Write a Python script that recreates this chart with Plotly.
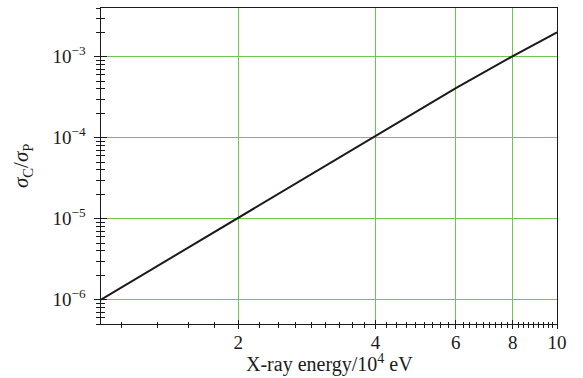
import plotly.graph_objects as go
import numpy as np

# X-ray energy in units of 10^4 eV and the ratio sigma_C / sigma_P
energy = [1, 2, 4, 6, 8, 10]
ratio = [1.0e-6, 1.03e-5, 1.05e-4, 4.1e-4, 1.02e-3, 2.0e-3]

x_major = [2, 4, 6, 8, 10]
x_major_text = ["2", "4", "6", "8", "10"]
# minor ticks every 2/9 between labelled ticks
x_minor = [a + 2 * k / 9 for a in [0, 2, 4, 6, 8] for k in range(1, 9) if a + 2 * k / 9 > 1.0]

y_major = [1e-6, 1e-5, 1e-4, 1e-3]
y_major_text = ["10<sup>\u22126</sup>", "10<sup>\u22125</sup>", "10<sup>\u22124</sup>", "10<sup>\u22123</sup>"]
y_minor = [m * 10.0 ** e for e in range(-7, -2) for m in range(2, 10)]
y_minor = [v for v in y_minor if 4.9e-7 <= v <= 4.1e-3 and v not in y_major]

x_range = [0, 1]
y_range = [np.log10(5e-7), np.log10(4e-3)]

x_title = "X-ray energy/10<sup>4</sup> eV"
y_title = "<i>\u03c3</i><sub>C</sub>/<i>\u03c3</i><sub>P</sub>"

FONT = "Liberation Serif"
INK = "#1a1a1a"
GRID = "#6cc84c"

fig = go.Figure()
fig.add_trace(go.Scatter(x=energy, y=ratio, mode="lines",
                         line=dict(color=INK, width=2), showlegend=False,
                         hoverinfo="skip"))
# helper trace so the inner-tick axes are drawn
fig.add_trace(go.Scatter(x=[1], y=[1e-6], xaxis="x2", yaxis="y2", mode="markers",
                         marker=dict(opacity=0), showlegend=False, hoverinfo="skip"))

common_x = dict(type="log", range=x_range, tickmode="array", tickvals=x_major,
                ticklen=4, tickwidth=1.2, tickcolor=INK, automargin=False)
common_y = dict(type="log", range=y_range, tickmode="array", tickvals=y_major,
                ticklen=5.5, tickwidth=1.2, tickcolor=INK, automargin=False)

fig.update_layout(
    width=583, height=378,
    margin=dict(l=101, r=26, t=7.5, b=54.3),
    paper_bgcolor="white", plot_bgcolor="white",
    font=dict(family=FONT, size=19, color=INK),
    xaxis=dict(**common_x, ticktext=x_major_text, ticks="outside",
               showgrid=True, gridcolor=GRID, gridwidth=1.2,
               showline=True, linecolor=INK, linewidth=1.3, mirror=True,
               zeroline=False, ticklabelstandoff=-3,
               tickfont=dict(size=19),
               minor=dict(tickmode="array", tickvals=x_minor, ticks="outside",
                          ticklen=2.5, tickwidth=1, tickcolor=INK, showgrid=False)),
    yaxis=dict(**common_y, ticktext=y_major_text, ticks="outside",
               showgrid=True, gridcolor=GRID, gridwidth=1.2,
               showline=True, linecolor=INK, linewidth=1.3, mirror=True,
               zeroline=False, ticklabelstandoff=5,
               tickfont=dict(size=19),
               minor=dict(tickmode="array", tickvals=y_minor, ticks="outside",
                          ticklen=3.5, tickwidth=1, tickcolor=INK, showgrid=False)),
    xaxis2=dict(**common_x, overlaying="x", anchor="y", side="bottom",
                ticks="inside", showticklabels=False, showgrid=False,
                showline=False, zeroline=False,
                minor=dict(tickmode="array", tickvals=x_minor, ticks="inside",
                           ticklen=2.5, tickwidth=1, tickcolor=INK, showgrid=False)),
    yaxis2=dict(**common_y, overlaying="y", anchor="x", side="left",
                ticks="inside", showticklabels=False, showgrid=False,
                showline=False, zeroline=False,
                minor=dict(tickmode="array", tickvals=y_minor, ticks="inside",
                           ticklen=3.5, tickwidth=1, tickcolor=INK, showgrid=False)),
    annotations=[
        dict(text=x_title, xref="paper", yref="paper", x=0.5, y=-0.125,
             xanchor="center", yanchor="middle", showarrow=False,
             font=dict(size=20)),
        dict(text=y_title, xref="paper", yref="paper", x=-0.173, y=0.5,
             xanchor="center", yanchor="middle", showarrow=False, textangle=-90,
             font=dict(size=21)),
    ],
)

fig.write_html("out.html")
